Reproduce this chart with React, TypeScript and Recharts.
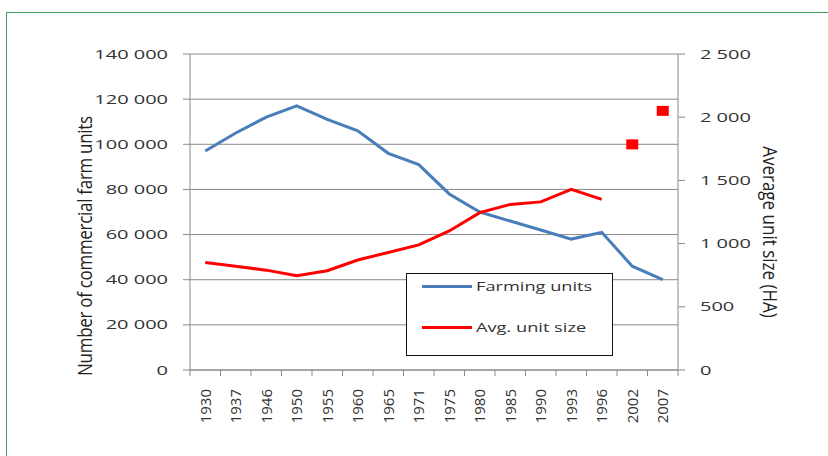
import { ComposedChart, Line, XAxis, YAxis, CartesianGrid, Legend } from "recharts";

const years = ["1930", "1937", "1946", "1950", "1955", "1960", "1965", "1971", "1975", "1980", "1985", "1990", "1993", "1996", "2002", "2007"];
const farmingUnits = [97000, 105000, 112000, 117000, 111000, 106000, 96000, 91000, 78000, 70000, 66000, 62000, 58000, 61000, 46000, 40000];
const avgUnitSize = [850, 820, 790, 745, 785, 870, 930, 990, 1100, 1245, 1310, 1330, 1430, 1350, null, null];
const avgUnitSizeLate = [null, null, null, null, null, null, null, null, null, null, null, null, null, null, 1785, 2050];
const leftTicks = [0, 20000, 40000, 60000, 80000, 100000, 120000, 140000];
const rightTicks = [0, 500, 1000, 1500, 2000, 2500];

const data = years.map((year, i) => ({
  year,
  units: farmingUnits[i],
  size: avgUnitSize[i],
  sizeLate: avgUnitSizeLate[i],
}));

const W = 828;
const H = 456;
const PLOT_LEFT = 190;
const PLOT_RIGHT = 678;
const PLOT_BOTTOM = 370;
const BAND = (PLOT_RIGHT - PLOT_LEFT) / years.length;
const FONT = "'Open Sans', sans-serif";
const TEXT = "#333";
const AXIS = "#8a8a8a";
const STRETCH = 1.6;

const spaced = (v: number) => v.toLocaleString("en-US").replace(/,/g, " ");

const LeftTick = ({ x, y, payload }: any) => (
  <g transform={`translate(${x},${y})`}>
    <text transform={`scale(${STRETCH},1)`} textAnchor="end" dy={4.5} fontSize={12.5} fontFamily={FONT} fill={TEXT}>
      {spaced(payload.value)}
    </text>
  </g>
);

const RightTick = ({ x, y, payload }: any) => (
  <g transform={`translate(${x},${y})`}>
    <text transform={`scale(${STRETCH},1)`} textAnchor="start" dy={4.5} fontSize={12.5} fontFamily={FONT} fill={TEXT}>
      {spaced(payload.value)}
    </text>
  </g>
);

// labels sit at band centres, tick marks at band edges (Excel style)
const YearTick = ({ x, y, payload, index }: any) => (
  <g>
    <line x1={x - BAND / 2} x2={x - BAND / 2} y1={PLOT_BOTTOM} y2={PLOT_BOTTOM + 6} stroke={AXIS} />
    {index === years.length - 1 && (
      <line x1={x + BAND / 2} x2={x + BAND / 2} y1={PLOT_BOTTOM} y2={PLOT_BOTTOM + 6} stroke={AXIS} />
    )}
    <text transform={`translate(${x},${y}) rotate(-90)`} textAnchor="end" dy="0.38em" fontSize={15} fontFamily={FONT} fill={TEXT}>
      {payload.value}
    </text>
  </g>
);

const SquareDot = ({ cx, cy, value }: any) =>
  value == null || cx == null ? null : <rect x={cx - 6} y={cy - 5} width={12} height={10} fill="#ff0000" />;

const legendItems = [
  { label: "Farming units", color: "#4a7ebb" },
  { label: "Avg. unit size", color: "#ff0000" },
];

const ChartLegend = () => (
  <div style={{ width: 207, height: 83, border: "1.5px solid #111", background: "#fff", boxSizing: "border-box", position: "relative" }}>
    {legendItems.map((item, i) => (
      <div key={item.label} style={{ position: "absolute", left: 15, top: 1 + i * 41, height: 22, display: "flex", alignItems: "center" }}>
        <div style={{ width: 50, height: 3, background: item.color }} />
        <div
          style={{
            marginLeft: 4,
            fontFamily: FONT,
            fontSize: 13,
            color: TEXT,
            transform: `scaleX(1.4)`,
            transformOrigin: "left center",
            whiteSpace: "nowrap",
          }}
        >
          {item.label}
        </div>
      </div>
    ))}
  </div>
);

export default function App() {
  return (
    <div style={{ position: "relative", width: W, height: H, overflow: "hidden", background: "#fff" }}>
      <style>{`body{margin:0}`}</style>
      <div style={{ position: "absolute", left: 6, top: 12, width: 900, height: 600, border: "1px solid #3f9a60" }} />
      <ComposedChart
        width={W}
        height={H}
        data={data}
        margin={{ top: 54, left: PLOT_LEFT - 60, right: W - PLOT_RIGHT - 60, bottom: H - PLOT_BOTTOM - 40 }}
        style={{ position: "absolute", left: 0, top: 0 }}
      >
        <CartesianGrid yAxisId="left" vertical={false} stroke={AXIS} strokeWidth={1} />
        <XAxis
          dataKey="year"
          scale="band"
          height={40}
          interval={0}
          tickLine={false}
          stroke={AXIS}
          tick={<YearTick />}
          tickMargin={13}
        />
        <YAxis
          yAxisId="left"
          width={60}
          domain={[0, 140000]}
          ticks={leftTicks}
          stroke={AXIS}
          tickSize={7}
          tickMargin={15}
          tick={<LeftTick />}
          interval={0}
        />
        <YAxis
          yAxisId="right"
          orientation="right"
          width={60}
          domain={[0, 2500]}
          ticks={rightTicks}
          stroke={AXIS}
          tickSize={7}
          tickMargin={15}
          tick={<RightTick />}
          interval={0}
        />
        <Legend
          layout="horizontal"
          verticalAlign="middle"
          align="center"
          content={<ChartLegend />}
          wrapperStyle={{ left: 406, top: 273, width: 207, height: 83 }}
        />
        <Line yAxisId="left" dataKey="units" stroke="#4a7ebb" strokeWidth={3} dot={false} isAnimationActive={false} />
        <Line yAxisId="right" dataKey="size" stroke="#ff0000" strokeWidth={3} dot={false} isAnimationActive={false} />
        <Line
          yAxisId="right"
          dataKey="sizeLate"
          stroke="none"
          dot={<SquareDot />}
          activeDot={false}
          legendType="none"
          isAnimationActive={false}
        />
      </ComposedChart>
      <div
        style={{
          position: "absolute",
          left: 84,
          top: 246,
          transform: "translate(-50%,-50%) scaleX(1.2) rotate(-90deg)",
          fontFamily: FONT,
          fontSize: 17,
          color: "#222",
          whiteSpace: "nowrap",
          letterSpacing: -0.3,
        }}
      >
        Number of commercial farm units
      </div>
      <div
        style={{
          position: "absolute",
          left: 770,
          top: 232,
          transform: "translate(-50%,-50%) scaleX(1.15) rotate(90deg)",
          fontFamily: FONT,
          fontSize: 17,
          color: "#222",
          whiteSpace: "nowrap",
        }}
      >
        Average unit size (HA)
      </div>
    </div>
  );
}
